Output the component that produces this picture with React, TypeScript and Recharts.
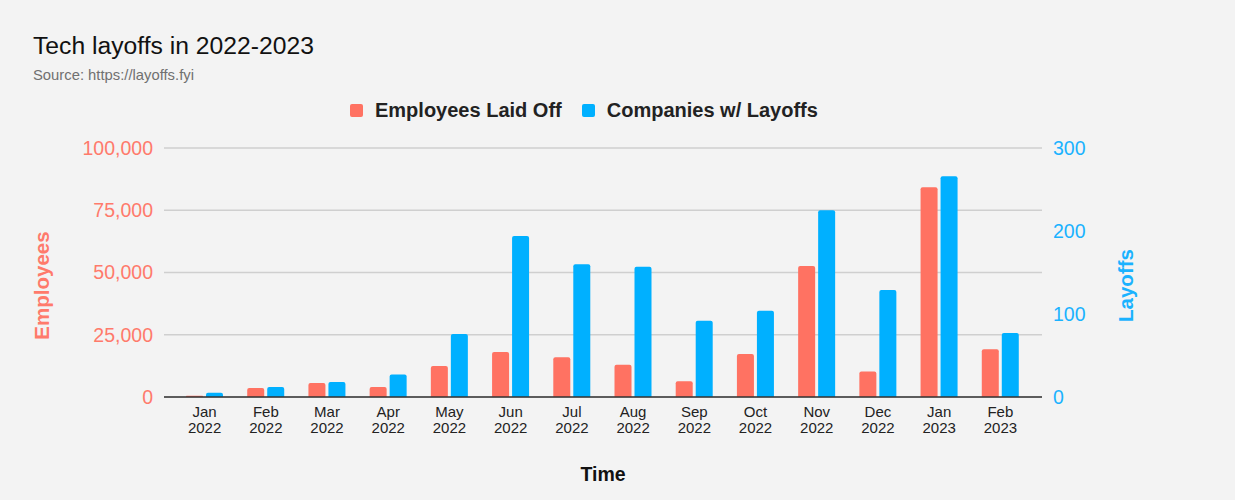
import React from 'react';
import { BarChart, Bar, XAxis, YAxis, CartesianGrid, Label } from 'recharts';

const months = ['Jan', 'Feb', 'Mar', 'Apr', 'May', 'Jun', 'Jul', 'Aug', 'Sep', 'Oct', 'Nov', 'Dec', 'Jan', 'Feb'];
const years = ['2022', '2022', '2022', '2022', '2022', '2022', '2022', '2022', '2022', '2022', '2022', '2022', '2023', '2023'];
const employeesLaidOff = [510, 3600, 5600, 4000, 12500, 18100, 16000, 13000, 6300, 17300, 52600, 10200, 84200, 19200];
const companiesWithLayoffs = [5, 12, 18, 27, 76, 194, 160, 157, 92, 104, 225, 129, 266, 77];
const employeeTicks = [0, 25000, 50000, 75000, 100000];
const layoffTicks = [0, 100, 200, 300];

const RED = '#ff7262';
const BLUE = '#00b0ff';
const FONT = 'Arial, "Liberation Sans", sans-serif';

const data = months.map((m, i) => ({
  label: `${m} ${years[i]}`,
  employees: employeesLaidOff[i],
  companies: companiesWithLayoffs[i],
}));

// two-line month / year tick
const MonthTick = ({ x, y, payload }: any) => {
  const [m, yr] = String(payload.value).split(' ');
  return (
    <text x={x} y={y} textAnchor="middle" fill="#222" fontSize={15} fontFamily={FONT}>
      <tspan x={x} dy={12}>{m}</tspan>
      <tspan x={x} dy={15.5}>{yr}</tspan>
    </text>
  );
};

export default function App() {
  return (
    <div style={{ position: 'absolute', left: 0, top: 0, width: 1235, height: 500, background: '#f3f3f3', fontFamily: FONT }}>
      <div style={{ position: 'absolute', left: 33, top: 32, fontSize: 24.7, color: '#111' }}>Tech layoffs in 2022-2023</div>
      <div style={{ position: 'absolute', left: 33, top: 67, fontSize: 14.8, color: '#707070' }}>Source: https://layoffs.fyi</div>

      {/* legend */}
      <div style={{ position: 'absolute', left: 350, top: 99, display: 'flex', alignItems: 'center', fontSize: 20, fontWeight: 'bold', color: '#222' }}>
        <span style={{ width: 13, height: 13, background: RED, borderRadius: 2, display: 'inline-block', marginRight: 12 }} />
        <span style={{ marginRight: 20 }}>Employees Laid Off</span>
        <span style={{ width: 13, height: 13, background: BLUE, borderRadius: 2, display: 'inline-block', marginRight: 12 }} />
        <span>Companies w/ Layoffs</span>
      </div>

      <div style={{ position: 'absolute', left: 0, top: 0 }}>
        <BarChart
          width={1235}
          height={500}
          data={data}
          margin={{ top: 148, right: 0, bottom: 0, left: 0 }}
          barCategoryGap="20%"
          barGap={3}
        >
          <CartesianGrid yAxisId="left" vertical={false} stroke="#cfcfcf" strokeWidth={1.3} />
          <XAxis
            dataKey="label"
            interval={0}
            height={103}
            padding={{ left: 10, right: 11 }}
            tick={<MonthTick />}
            tickLine={false}
            axisLine={{ stroke: '#333', strokeWidth: 1.3 }}
          >
            <Label value="Time" position="insideBottom" offset={19} style={{ fontSize: 19.5, fontWeight: 'bold', fill: '#111', fontFamily: FONT }} />
          </XAxis>
          <YAxis
            yAxisId="left"
            width={164}
            domain={[0, 100000]}
            ticks={employeeTicks}
            tickFormatter={(v: number) => v.toLocaleString('en-US')}
            tick={{ fill: '#ff7a6b', fontSize: 19.5, fontFamily: FONT }}
            tickLine={false}
            axisLine={false}
            tickMargin={5}
          >
            <Label value="Employees" angle={-90} position="center" dx={-40} dy={13} style={{ fontSize: 20.5, fontWeight: 'bold', fill: '#ff7a6b', fontFamily: FONT }} />
          </YAxis>
          <YAxis
            yAxisId="right"
            orientation="right"
            width={193}
            domain={[0, 300]}
            ticks={layoffTicks}
            tick={{ fill: '#1ab2ff', fontSize: 19.5, fontFamily: FONT }}
            tickLine={false}
            axisLine={false}
            tickMargin={5}
          >
            <Label value="Layoffs" angle={-90} position="center" dx={-13} dy={13} style={{ fontSize: 20.5, fontWeight: 'bold', fill: '#1ab2ff', fontFamily: FONT }} />
          </YAxis>
          <Bar yAxisId="left" dataKey="employees" fill={RED} barSize={17} radius={[2, 2, 0, 0]} isAnimationActive={false} />
          <Bar yAxisId="right" dataKey="companies" fill={BLUE} barSize={17} radius={[2, 2, 0, 0]} isAnimationActive={false} />
        </BarChart>
      </div>
    </div>
  );
}
